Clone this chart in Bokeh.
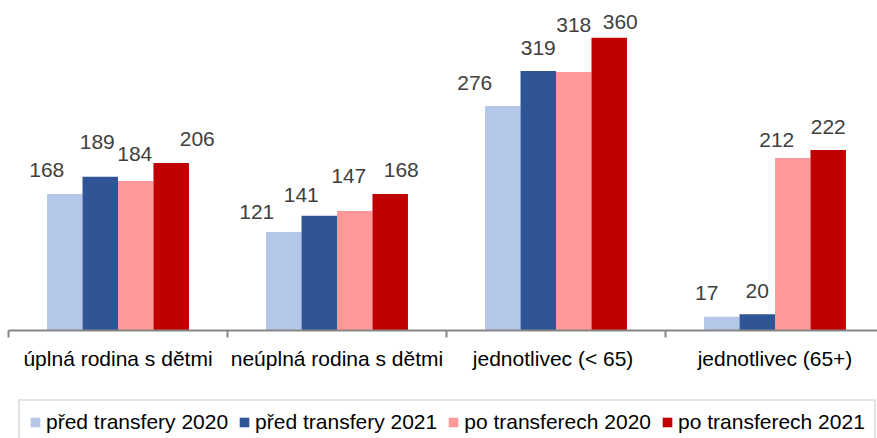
from bokeh.plotting import figure
from bokeh.layouts import column
from bokeh.models import FixedTicker, Legend, LegendItem, LinearAxis, Range1d, ColumnDataSource
from bokeh.core.properties import value
from bokeh.embed import file_html
from bokeh.resources import INLINE

# ---- data ----
categories = ["úplná rodina s dětmi", "neúplná rodina s dětmi", "jednotlivec  (< 65)", "jednotlivec (65+)"]
series_names = ["před transfery 2020", "před transfery 2021", "po transferech 2020", "po transferech 2021"]
pred_2020 = [168, 121, 276, 17]
pred_2021 = [189, 141, 319, 20]
po_2020 = [184, 147, 318, 212]
po_2021 = [206, 168, 360, 222]
series_values = [pred_2020, pred_2021, po_2020, po_2021]

# ---- styling / layout ----
colors = ["#b4c7e7", "#2f5597", "#ff9999", "#c00000"]
FONT = "Liberation Sans"
bar_w = 0.162
bar_offsets = [-0.243, -0.081, 0.081, 0.243]
# label nudges (px) per series, per category: horizontal shift and gap above bar top
label_dx = [[-18, -27, -28, -15], [-3, -18, 0, 0], [-1, -6, 0, -16], [26, 11, 11, 0]]
label_gap = [[17, 13, 16, 17], [28, 14, 16, 16], [20, 28, 40, 11], [17, 17, 9, 16]]
BASE_GAP = 7

n = len(categories)
p = figure(width=877, height=398,
           x_range=Range1d(0, 869 / 219), y_range=Range1d(0, 396),
           output_backend="svg", toolbar_location=None,
           x_axis_location=None, y_axis_location=None,
           min_border_left=8, min_border_right=0, min_border_top=8, min_border_bottom=68)
p.outline_line_color = None
p.background_fill_color = "white"
p.border_fill_color = "white"
for g in p.grid:
    g.visible = False

for s, (name, vals, col) in enumerate(zip(series_names, series_values, colors)):
    xs = [i + 0.5 + bar_offsets[s] for i in range(n)]
    src = ColumnDataSource(dict(x=xs, top=vals, lab=[str(v) for v in vals],
                                dx=label_dx[s], dy=[-(g + BASE_GAP) for g in label_gap[s]]))
    p.vbar(x="x", top="top", bottom=0, width=bar_w, source=src,
           fill_color=col, line_color=None)
    p.text(x="x", y="top", text="lab", x_offset="dx", y_offset="dy", source=src,
           text_align="center", text_baseline="alphabetic",
           text_font=value(FONT), text_font_size="21px", text_color="#404040")

axis = LinearAxis(
    ticker=FixedTicker(ticks=[i + 0.5 for i in range(n)], minor_ticks=list(range(n + 1))),
    major_label_overrides={i + 0.5: c for i, c in enumerate(categories)},
)
axis.axis_line_color = "#868686"
axis.axis_line_width = 2
axis.major_tick_line_color = None
axis.major_tick_out = 0
axis.major_tick_in = 0
axis.minor_tick_line_color = "#868686"
axis.minor_tick_line_width = 2
axis.minor_tick_out = 7
axis.minor_tick_in = 0
axis.major_label_standoff = 9
axis.major_label_text_font = FONT
axis.major_label_text_font_size = "21px"
axis.major_label_text_color = "#000000"
p.add_layout(axis, "below")

# ---- legend strip (swatch renderers sit outside the visible range) ----
q = figure(width=877, height=40, x_range=Range1d(0, 1), y_range=Range1d(0, 1),
           output_backend="svg", toolbar_location=None,
           x_axis_location=None, y_axis_location=None,
           min_border_left=0, min_border_right=0, min_border_top=0, min_border_bottom=0)
q.outline_line_color = None
q.background_fill_color = "white"
q.border_fill_color = "white"
for g in q.grid:
    g.visible = False

items = []
for name, col in zip(series_names, colors):
    r = q.vbar(x=[0.5], top=[-5], bottom=[-6], width=0.01, fill_color=col, line_color=None)
    items.append(LegendItem(label=name, renderers=[r]))

legend = Legend(items=items, orientation="horizontal", location=(10, -7))
legend.label_text_font = FONT
legend.label_text_font_size = "21px"
legend.label_text_color = "#000000"
legend.glyph_width = 12
legend.glyph_height = 12
legend.label_standoff = 5
legend.spacing = 10
legend.padding = 9
legend.margin = 0
legend.border_line_color = "#c8c8c8"
legend.border_line_width = 2
legend.background_fill_color = "white"
q.add_layout(legend, "center")

layout = column(p, q, spacing=0)
open("out.html", "w").write(file_html(layout, INLINE))
